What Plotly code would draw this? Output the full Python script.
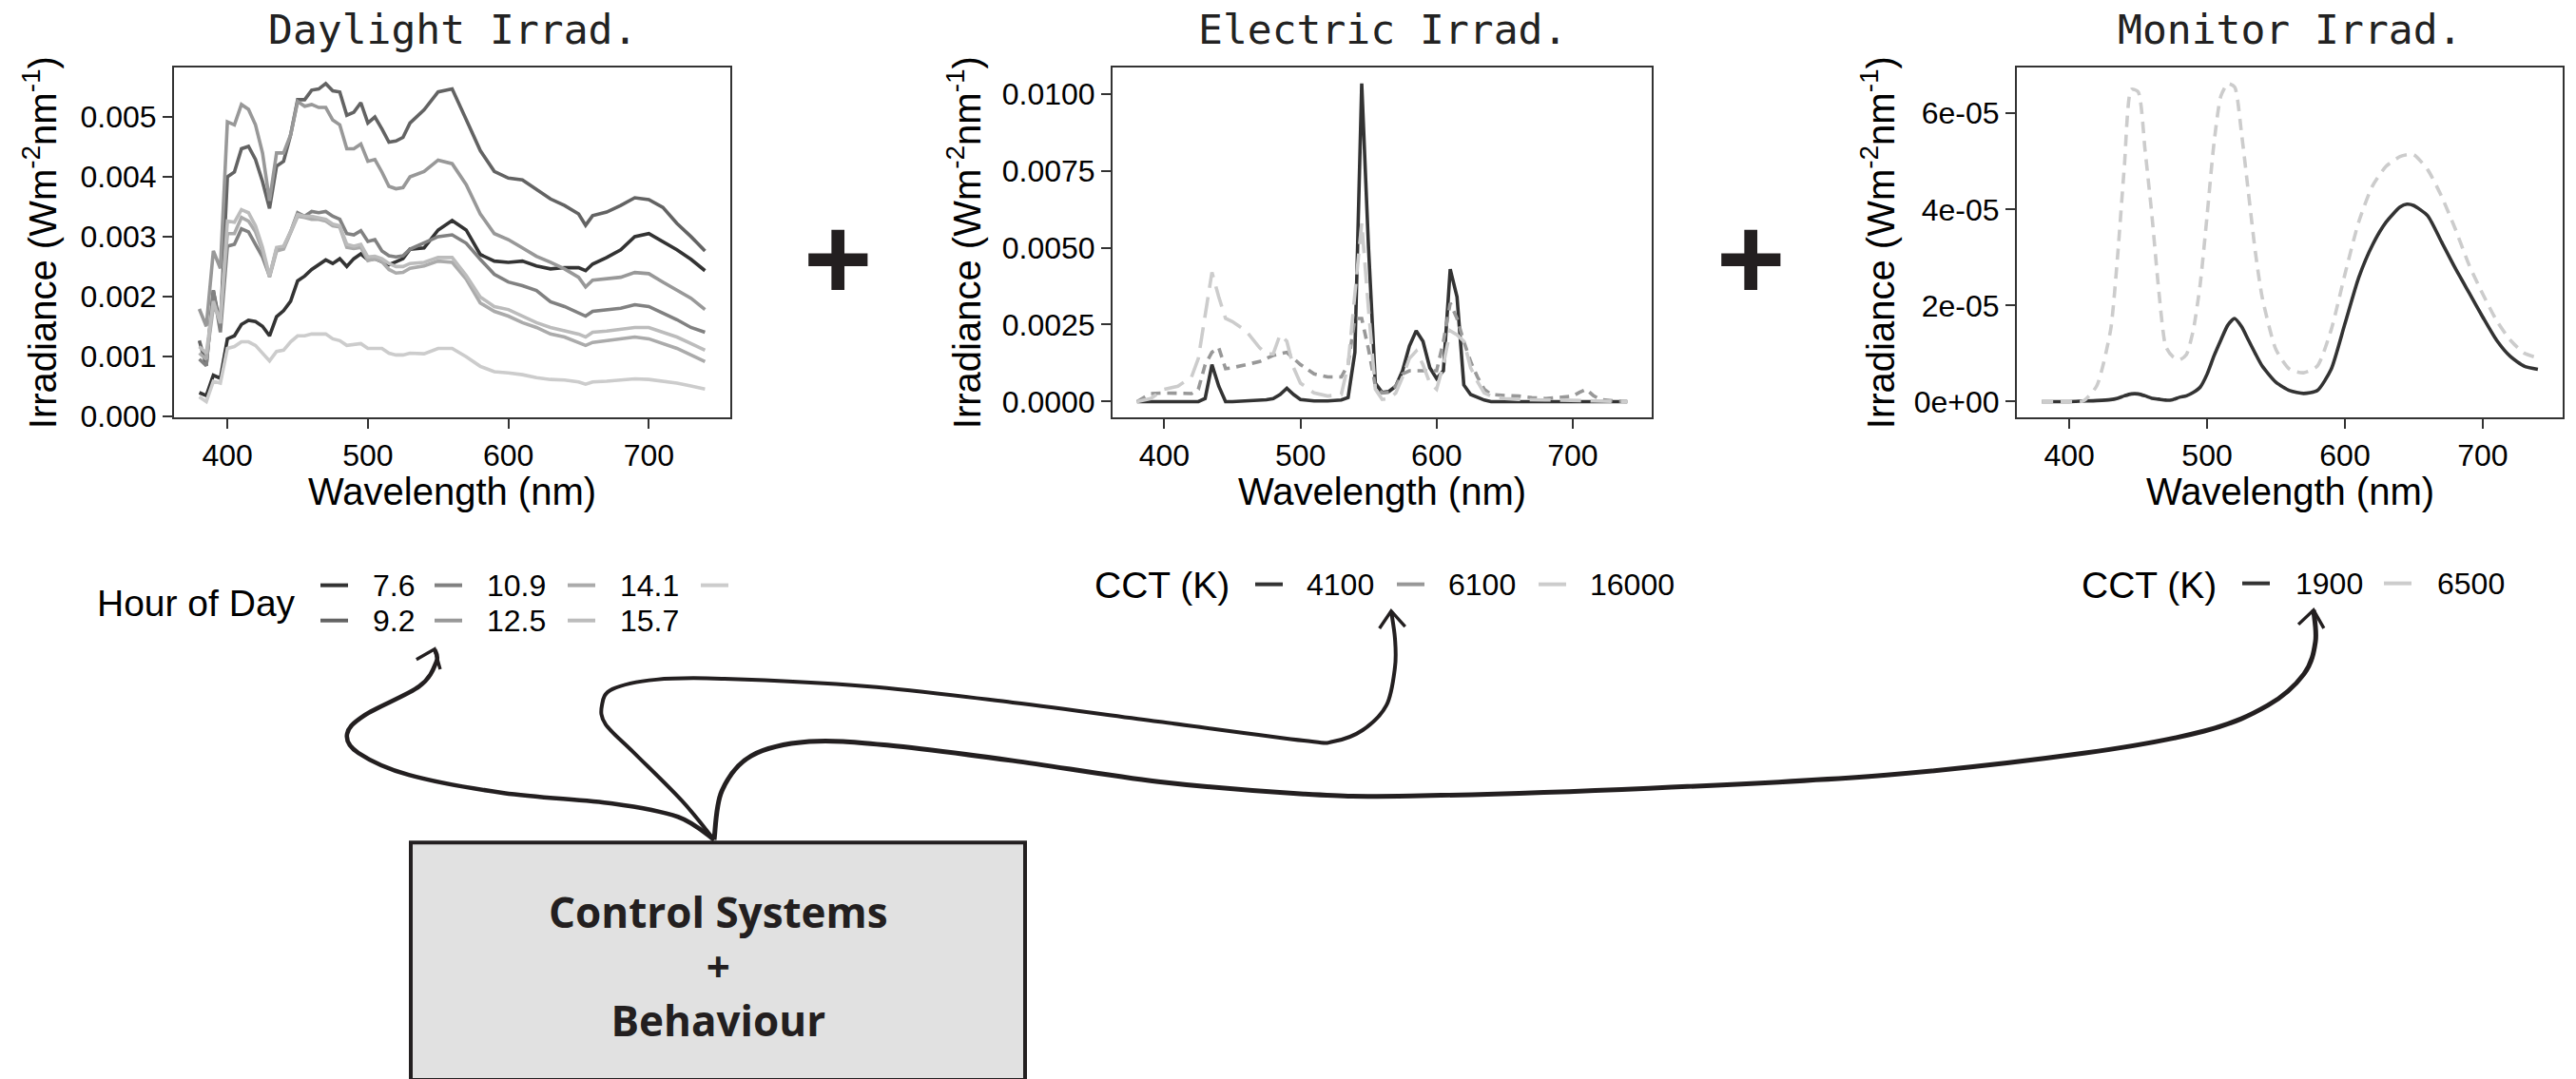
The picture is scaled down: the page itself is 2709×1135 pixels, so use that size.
import math
import plotly.graph_objects as go

W, H = 2709, 1135          # reference canvas
FIG_H = 1155               # figure height (compensates the vertical squeeze seen in the photo)

# ---------------- data ----------------
day_wl = [380, 385, 390, 395, 400, 405, 410, 415, 420, 425, 430, 435, 440, 445, 450, 455, 460, 465, 470, 475,
          480, 485, 490, 495, 500, 505, 510, 515, 520, 525, 530,
          540, 550, 560, 570, 580, 590, 600, 610, 620, 630, 640, 650, 655, 660, 670, 680, 690, 700, 710, 720, 730, 740]
day_hours = ["7.6", "9.2", "10.9", "12.5", "14.1", "15.7", ""]
day_h07_6 = [0.00039, 0.00034, 0.00068, 0.00063, 0.00129, 0.00134, 0.00153, 0.0016, 0.00158, 0.0015, 0.00134, 0.00166,
             0.00176, 0.00192, 0.00226, 0.00234, 0.00245, 0.00253, 0.00261, 0.00255, 0.00263, 0.0025, 0.00263, 0.00271,
             0.00261, 0.00263, 0.00258, 0.00253, 0.00258, 0.00263, 0.00279,
             0.00281, 0.00311, 0.00327, 0.00311, 0.0027, 0.00259, 0.00257, 0.00259, 0.00251, 0.00246, 0.00248, 0.00248,
             0.00243, 0.00254, 0.00265, 0.00278, 0.003, 0.00305, 0.00292, 0.00278, 0.00262, 0.00243]
day_h09_2 = [0.00126, 0.00084, 0.0021, 0.0015, 0.004, 0.00408, 0.00447, 0.00451, 0.00429, 0.00392, 0.00347, 0.00418,
             0.00426, 0.0047, 0.00529, 0.00529, 0.00545, 0.00547, 0.00556, 0.00544, 0.00542, 0.00503, 0.00508, 0.00524,
             0.0049, 0.005, 0.0048, 0.00458, 0.0046, 0.00466, 0.0049,
             0.00512, 0.00542, 0.00547, 0.00496, 0.00444, 0.00409, 0.00398, 0.00395, 0.00379, 0.00363, 0.00352, 0.00338,
             0.00319, 0.00335, 0.00341, 0.00352, 0.00365, 0.00362, 0.00349, 0.00322, 0.003, 0.00276]
day_h10_9 = [0.00095, 0.00084, 0.0021, 0.0014, 0.00284, 0.00287, 0.00313, 0.00308, 0.00287, 0.00266, 0.00234, 0.00279,
             0.00282, 0.00308, 0.0034, 0.00334, 0.00342, 0.0034, 0.00342, 0.00334, 0.00329, 0.00305, 0.00303, 0.0031,
             0.00292, 0.00295, 0.00276, 0.00268, 0.00266, 0.00268, 0.00279,
             0.00289, 0.003, 0.00303, 0.00289, 0.00262, 0.00237, 0.00224, 0.00218, 0.0021, 0.00191, 0.00183, 0.00172,
             0.00167, 0.00175, 0.00178, 0.0018, 0.00186, 0.00183, 0.00172, 0.00161, 0.00148, 0.0014]
day_h12_5 = [0.00179, 0.0015, 0.00276, 0.00247, 0.00492, 0.00487, 0.00521, 0.00513, 0.00487, 0.0044, 0.0036, 0.0044,
             0.0044, 0.0047, 0.00526, 0.00518, 0.00521, 0.00516, 0.00516, 0.00495, 0.00487, 0.00447, 0.00447, 0.00455,
             0.00426, 0.00429, 0.00408, 0.00384, 0.0038, 0.00382, 0.004,
             0.00409, 0.00428, 0.00422, 0.00387, 0.00338, 0.00305, 0.00295, 0.00281, 0.00267, 0.00257, 0.00246, 0.00232,
             0.00216, 0.00227, 0.00229, 0.00232, 0.0024, 0.00238, 0.00224, 0.0021, 0.00197, 0.00178]
day_h14_1 = [0.00105, 0.00095, 0.00182, 0.00166, 0.00305, 0.00305, 0.00332, 0.00326, 0.00308, 0.00276, 0.00232, 0.00276,
             0.00279, 0.00305, 0.00334, 0.00332, 0.00329, 0.00329, 0.00326, 0.00318, 0.00316, 0.00282, 0.0028, 0.00282,
             0.0026, 0.00263, 0.00258, 0.00245, 0.00239, 0.0024, 0.00247,
             0.00251, 0.00259, 0.00257, 0.00229, 0.00189, 0.00175, 0.00167, 0.00156, 0.00148, 0.00137, 0.00132, 0.00123,
             0.00118, 0.00123, 0.00126, 0.00129, 0.00132, 0.00129, 0.00121, 0.00113, 0.00102, 0.00091]
day_h15_7 = [0.00116, 0.00105, 0.00192, 0.00155, 0.00326, 0.00324, 0.00345, 0.0034, 0.00318, 0.00282, 0.00234, 0.00282,
             0.00284, 0.00308, 0.00337, 0.00334, 0.00334, 0.00332, 0.00329, 0.00321, 0.00318, 0.00287, 0.00284, 0.00287,
             0.00266, 0.00267, 0.00263, 0.00255, 0.0025, 0.0025, 0.00255,
             0.00257, 0.00265, 0.00265, 0.00235, 0.00199, 0.00183, 0.00178, 0.00167, 0.00156, 0.00148, 0.00142, 0.00137,
             0.00132, 0.0014, 0.00142, 0.00145, 0.00148, 0.00148, 0.0014, 0.00132, 0.00121, 0.0011]
day_h_last = [0.00032, 0.00024, 0.00058, 0.00055, 0.00113, 0.00116, 0.00124, 0.00124, 0.00118, 0.00105, 0.00092, 0.00108,
              0.0011, 0.00124, 0.00134, 0.00134, 0.00137, 0.00137, 0.00137, 0.00129, 0.00126, 0.00118, 0.00119, 0.00121,
              0.00113, 0.00113, 0.00113, 0.00105, 0.00102, 0.00102, 0.00105,
              0.00104, 0.00113, 0.00113, 0.00099, 0.00083, 0.00074, 0.00072, 0.00069, 0.00064, 0.00061, 0.0006, 0.00057,
              0.00053, 0.00057, 0.00058, 0.0006, 0.00062, 0.00061, 0.00058, 0.00055, 0.0005, 0.00045]
day_series = [day_h07_6, day_h09_2, day_h10_9, day_h12_5, day_h14_1, day_h15_7, day_h_last]

elec_wl = [380, 390, 400, 410, 420, 425, 430, 435, 440, 445, 450, 460, 470, 475, 480, 485, 490, 495, 500,
           510, 520, 530, 535, 540, 545, 550, 555, 560, 565, 570, 575, 580, 585, 590, 595, 600, 605, 610, 615, 620,
           625, 630, 635, 640, 650, 660, 670, 680, 690, 700, 705, 710, 715, 720, 730, 740]
elec_cct = ["4100", "6100", "16000"]
elec_4100 = [0, 0, 0.00002, 0, 0, 0, 0.0001, 0.0012, 0.0005, 0, 0, 0.00002, 0.00005, 0.00006, 0.0001, 0.00023, 0.00043,
             0.00023, 0.00007,
             0.00002, 0.00002, 0.00005, 0.00013, 0.0016, 0.01033, 0.005, 0.0006, 0.0003, 0.00033, 0.0005, 0.001, 0.0018,
             0.0023, 0.00196, 0.0011, 0.00075, 0.001, 0.0043, 0.0034, 0.00054,
             0.00023, 0.00013, 0.00005, 0, 0, 0, 0, 0, 0, 0, 0, 0.00002, 0.00002, 0, 0, 0]
elec_6100 = [0, 0.00026, 0.00028, 0.00026, 0.00026, 0.0004, 0.0012, 0.0016, 0.00175, 0.00107, 0.0011, 0.0012, 0.0013,
             0.0014, 0.0015, 0.00155, 0.0016, 0.0014, 0.0012,
             0.0009, 0.0008, 0.0008, 0.0012, 0.0027, 0.0027, 0.0017, 0.0005, 0.00028, 0.0003, 0.0005, 0.0009, 0.001,
             0.001, 0.001, 0.001, 0.001, 0.00195, 0.0032, 0.0027, 0.00195,
             0.0013, 0.0008, 0.0004, 0.00023, 0.0002, 0.00018, 0.00013, 0.0001, 0.00013, 0.00018, 0.0003, 0.0004,
             0.0002, 0.00007, 0.00002, 0]
elec_16000 = [0, 0.0001, 0.0004, 0.0005, 0.0008, 0.0014, 0.0028, 0.0042, 0.0034, 0.0027, 0.0026, 0.0023, 0.00175,
              0.00155, 0.00155, 0.00217, 0.00196, 0.0011, 0.0006,
              0.00028, 0.00018, 0.00023, 0.0012, 0.0035, 0.0058, 0.003, 0.0004, 0.00007, 0.0001, 0.00028, 0.0008, 0.0014,
              0.00164, 0.0012, 0.0006, 0.0004, 0.0012, 0.0023, 0.00217, 0.00196,
              0.0011, 0.00065, 0.00028, 0.00018, 0.0001, 0.00007, 0.00005, 0.00005, 0.00005, 0.00005, 0.00004, 0.00003,
              0.00002, 0.00002, 0, 0]
elec_series = [elec_4100, elec_6100, elec_16000]

mon_wl = [380, 390, 400, 410, 420, 430, 435, 440, 445, 450, 455, 460, 465, 470, 475, 480, 485, 490, 495, 500,
          505, 510, 515, 520, 525, 530, 535, 540, 550, 560, 570, 580, 590, 600, 610, 620, 630, 640, 645, 650,
          660, 670, 680, 690, 700, 710, 720, 730, 740]
mon_cct = ["1900", "6500"]
mon_1900 = [0, 0, 0, 0.01e-5, 0.02e-5, 0.04e-5, 0.07e-5, 0.12e-5, 0.16e-5, 0.16e-5, 0.12e-5, 0.07e-5, 0.05e-5,
            0.03e-5, 0.04e-5, 0.09e-5, 0.12e-5, 0.19e-5, 0.3e-5, 0.57e-5,
            0.95e-5, 1.28e-5, 1.59e-5, 1.73e-5, 1.56e-5, 1.28e-5, 1.0e-5, 0.74e-5, 0.4e-5, 0.23e-5, 0.17e-5, 0.23e-5,
            0.67e-5, 1.62e-5, 2.58e-5, 3.26e-5, 3.74e-5, 4.05e-5, 4.11e-5, 4.08e-5,
            3.87e-5, 3.33e-5, 2.78e-5, 2.27e-5, 1.76e-5, 1.28e-5, 0.94e-5, 0.74e-5, 0.67e-5]
mon_6500 = [0, 0, 0, 0.01e-5, 0.33e-5, 1.49e-5, 3.0e-5, 4.9e-5, 6.5e-5, 6.45e-5, 5.24e-5, 3.87e-5, 2.3e-5,
            1.15e-5, 0.94e-5, 0.87e-5, 0.98e-5, 1.49e-5, 2.44e-5, 3.87e-5,
            5.38e-5, 6.36e-5, 6.62e-5, 6.55e-5, 5.58e-5, 4.35e-5, 3.12e-5, 2.17e-5, 1.08e-5, 0.67e-5, 0.6e-5, 0.74e-5,
            1.49e-5, 2.65e-5, 3.74e-5, 4.49e-5, 4.9e-5, 5.1e-5, 5.14e-5, 5.14e-5,
            4.83e-5, 4.28e-5, 3.6e-5, 2.85e-5, 2.24e-5, 1.69e-5, 1.28e-5, 1.01e-5, 0.91e-5]
mon_series = [mon_1900, mon_6500]

x_ticks = [400, 500, 600, 700]
day_yticks = [0.0, 0.001, 0.002, 0.003, 0.004, 0.005]
elec_yticks = [0.0, 0.0025, 0.005, 0.0075, 0.01]
mon_yticks = [0.0, 2e-5, 4e-5, 6e-5]
mon_yticklabels = ["0e+00", "2e-05", "4e-05", "6e-05"]

panel_titles = ["Daylight Irrad.", "Electric Irrad.", "Monitor Irrad."]
x_title = "Wavelength (nm)"
y_title = "Irradiance (Wm<sup>-2</sup>nm<sup>-1</sup>)"
day_legend_title = "Hour of Day"
cct_legend_title = "CCT (K)"
box_lines = ["Control Systems", "+", "Behaviour"]

# ---------------- styles ----------------
SANS = "Liberation Sans, Arial, Helvetica, sans-serif"
MONO = "DejaVu Sans Mono, monospace"
BOXF = "Open Sans, Noto Sans, sans-serif"
INK = "#231f20"
day_colors = ["#333333", "#636363", "#818181", "#989898", "#ABABAB", "#BCBCBC", "#CCCCCC"]
elec_colors = ["#333333", "#989898", "#CCCCCC"]
elec_dash = ["solid", "10px,7px", "22px,10px"]
mon_colors = ["#333333", "#CCCCCC"]
mon_dash = ["solid", "12px,8px"]
LW = 3.6


def X(px):
    return px / W


def Y(py):
    return 1 - py / H


boxes_x = [(183, 768), (1170, 1737), (2121, 2695)]
box_y = (71, 438)


def expand(vals):
    mn, mx = min(vals), max(vals)
    r = mx - mn
    return [mn - 0.05 * r, mx + 0.05 * r]


fig = go.Figure()

for vals, hr, col in zip(day_series, day_hours, day_colors):
    fig.add_trace(go.Scatter(x=day_wl, y=vals, mode="lines", name=hr or " ",
                             line=dict(color=col, width=LW), xaxis="x", yaxis="y", showlegend=False))
for vals, c, col, d in zip(elec_series, elec_cct, elec_colors, elec_dash):
    fig.add_trace(go.Scatter(x=elec_wl, y=vals, mode="lines", name=c,
                             line=dict(color=col, width=LW, dash=d), xaxis="x2", yaxis="y2", showlegend=False))
for vals, c, col, d in zip(mon_series, mon_cct, mon_colors, mon_dash):
    fig.add_trace(go.Scatter(x=mon_wl, y=vals, mode="lines", name=c,
                             line=dict(color=col, width=LW, dash=d, shape="spline", smoothing=0.6),
                             xaxis="x3", yaxis="y3", showlegend=False))

axis_common = dict(showline=True, mirror=True, linecolor="#333333", linewidth=2,
                   ticks="outside", ticklen=10, tickwidth=2, tickcolor="#333333",
                   showgrid=False, zeroline=False,
                   tickfont=dict(family=SANS, size=32, color="#000000"))

all_day = [v for s in day_series for v in s]
all_elec = [v for s in elec_series for v in s]
all_mon = [v for s in mon_series for v in s]
xr = expand(day_wl + elec_wl + mon_wl)
yranges = [expand(all_day), expand(all_elec), expand(all_mon)]
yticks = [day_yticks, elec_yticks, mon_yticks]
yfmt = [[f"{v:.3f}" for v in day_yticks], [f"{v:.4f}" for v in elec_yticks], mon_yticklabels]

layout = dict(width=W, height=FIG_H, margin=dict(l=0, r=0, t=0, b=0, pad=0), autosize=False,
              paper_bgcolor="white", plot_bgcolor="white", showlegend=False)
for i in range(3):
    sx = "" if i == 0 else str(i + 1)
    x0, x1 = boxes_x[i]
    layout["xaxis" + sx] = dict(axis_common, domain=[X(x0), X(x1)], range=xr, tickvals=x_ticks,
                                anchor="y" + sx)
    layout["yaxis" + sx] = dict(axis_common, domain=[Y(box_y[1]), Y(box_y[0])], range=yranges[i],
                                tickvals=yticks[i], ticktext=yfmt[i], anchor="x" + sx)
fig.update_layout(**layout)


def ann(x, y, text, size, family=SANS, color="#000000", xanchor="center", yanchor="middle", angle=0):
    return dict(x=X(x), y=Y(y), xref="paper", yref="paper", text=text, showarrow=False,
                font=dict(size=size, family=family, color=color), xanchor=xanchor, yanchor=yanchor,
                textangle=angle)


annotations = []
ytitle_x = [42, 1014, 1975]
for i in range(3):
    cx = (boxes_x[i][0] + boxes_x[i][1]) / 2
    annotations.append(ann(cx, 31, panel_titles[i], 43, family=MONO, color="#222222"))
    annotations.append(ann(cx, 516, x_title, 40))
    annotations.append(ann(ytitle_x[i], (box_y[0] + box_y[1]) / 2, y_title, 40, angle=-90))

# big plus signs between panels
annotations.append(ann(881, 271, "<b>+</b>", 124, color=INK))
annotations.append(ann(1841, 271, "<b>+</b>", 124, color=INK))

shapes = []

# legend: Hour of Day (2 rows, column-major)
annotations.append(ann(100, 633, day_legend_title, 39, xanchor="left"))
col_x = [337, 457, 597, 737]
row_y = [614, 651]
for i, (hr, col) in enumerate(zip(day_hours, day_colors)):
    kx = col_x[i // 2]
    ky = row_y[i % 2]
    shapes.append(dict(type="line", xref="paper", yref="paper", x0=X(kx), x1=X(kx + 29), y0=Y(ky), y1=Y(ky),
                       line=dict(color=col, width=4)))
    if hr:
        annotations.append(ann(kx + 53, ky, hr, 32, xanchor="left"))

# legend: CCT electric
annotations.append(ann(1149, 614, cct_legend_title, 39, xanchor="left"))
for kx, lab, col in zip([1320, 1469, 1618], elec_cct, elec_colors):
    shapes.append(dict(type="line", xref="paper", yref="paper", x0=X(kx), x1=X(kx + 29), y0=Y(613), y1=Y(613),
                       line=dict(color=col, width=4)))
    annotations.append(ann(kx + 52, 613, lab, 32, xanchor="left"))

# legend: CCT monitor
annotations.append(ann(2187, 614, cct_legend_title, 39, xanchor="left"))
for kx, lab, col in zip([2358, 2507], mon_cct, mon_colors):
    shapes.append(dict(type="line", xref="paper", yref="paper", x0=X(kx), x1=X(kx + 29), y0=Y(612), y1=Y(612),
                       line=dict(color=col, width=4)))
    annotations.append(ann(kx + 54, 612, lab, 32, xanchor="left"))


# curved arrows from the control box to the legends
def smooth_path(pts):
    P = [(X(x), Y(y)) for x, y in pts]
    d = f"M {P[0][0]:.5f},{P[0][1]:.5f}"
    for i in range(len(P) - 1):
        p0 = P[i - 1] if i > 0 else P[i]
        p1 = P[i]
        p2 = P[i + 1]
        p3 = P[i + 2] if i + 2 < len(P) else P[i + 1]
        c1 = (p1[0] + (p2[0] - p0[0]) / 6, p1[1] + (p2[1] - p0[1]) / 6)
        c2 = (p2[0] - (p3[0] - p1[0]) / 6, p2[1] - (p3[1] - p1[1]) / 6)
        d += f" C {c1[0]:.5f},{c1[1]:.5f} {c2[0]:.5f},{c2[1]:.5f} {p2[0]:.5f},{p2[1]:.5f}"
    return d


def head_path(pts, length=22, half=38):
    tx, ty = pts[-1]
    bx, by = pts[-3]
    dx, dy = tx - bx, ty - by
    n = math.hypot(dx, dy)
    ux, uy = dx / n, dy / n
    arms = []
    for s in (-1, 1):
        a = math.radians(half) * s
        rx = ux * math.cos(a) - uy * math.sin(a)
        ry = ux * math.sin(a) + uy * math.cos(a)
        arms.append((tx - length * rx, ty - length * ry))
    return (f"M {X(arms[0][0]):.5f},{Y(arms[0][1]):.5f} L {X(tx):.5f},{Y(ty):.5f} "
            f"L {X(arms[1][0]):.5f},{Y(arms[1][1]):.5f}")


arrow1 = [(751, 881), (713, 857), (644, 843), (530, 832), (430, 813), (377, 790), (365, 770), (384, 750),
          (441, 720), (459, 694), (457, 681)]
arrow2 = [(751, 881), (717, 840), (667, 790), (637, 760), (633, 740), (644, 723), (690, 713), (759, 712),
          (912, 720), (1065, 737), (1218, 757), (1371, 777), (1402, 778), (1433, 766), (1458, 740),
          (1467, 700), (1467, 670), (1463, 641)]
arrow3 = [(751, 881), (759, 830), (790, 793), (851, 778), (935, 782), (1065, 798), (1218, 820), (1371, 833),
          (1484, 835), (1734, 827), (1984, 813), (2193, 790), (2318, 767), (2385, 740), (2423, 707),
          (2435, 673), (2433, 640)]
for pts, wdt in [(arrow1, 4.6), (arrow2, 4.0), (arrow3, 5.0)]:
    shapes.append(dict(type="path", xref="paper", yref="paper", path=smooth_path(pts),
                       line=dict(color=INK, width=wdt)))
    shapes.append(dict(type="path", xref="paper", yref="paper", path=head_path(pts),
                       line=dict(color=INK, width=3.4)))

# control box
shapes.append(dict(type="rect", xref="paper", yref="paper", x0=X(432), x1=X(1078), y0=Y(1133), y1=Y(884),
                   fillcolor="#E1E1E1", line=dict(color=INK, width=4)))
box_text = "<br>".join(f"<b>{t}</b>" for t in box_lines)
annotations.append(ann(755, 1013, box_text, 44, family=BOXF, color=INK))

fig.update_layout(annotations=annotations, shapes=shapes)
fig.write_html("out.html", config={"displayModeBar": False},
               post_script="document.documentElement.style.overflow='hidden';"
                           "document.body.style.margin='0';document.body.style.overflow='hidden';")
